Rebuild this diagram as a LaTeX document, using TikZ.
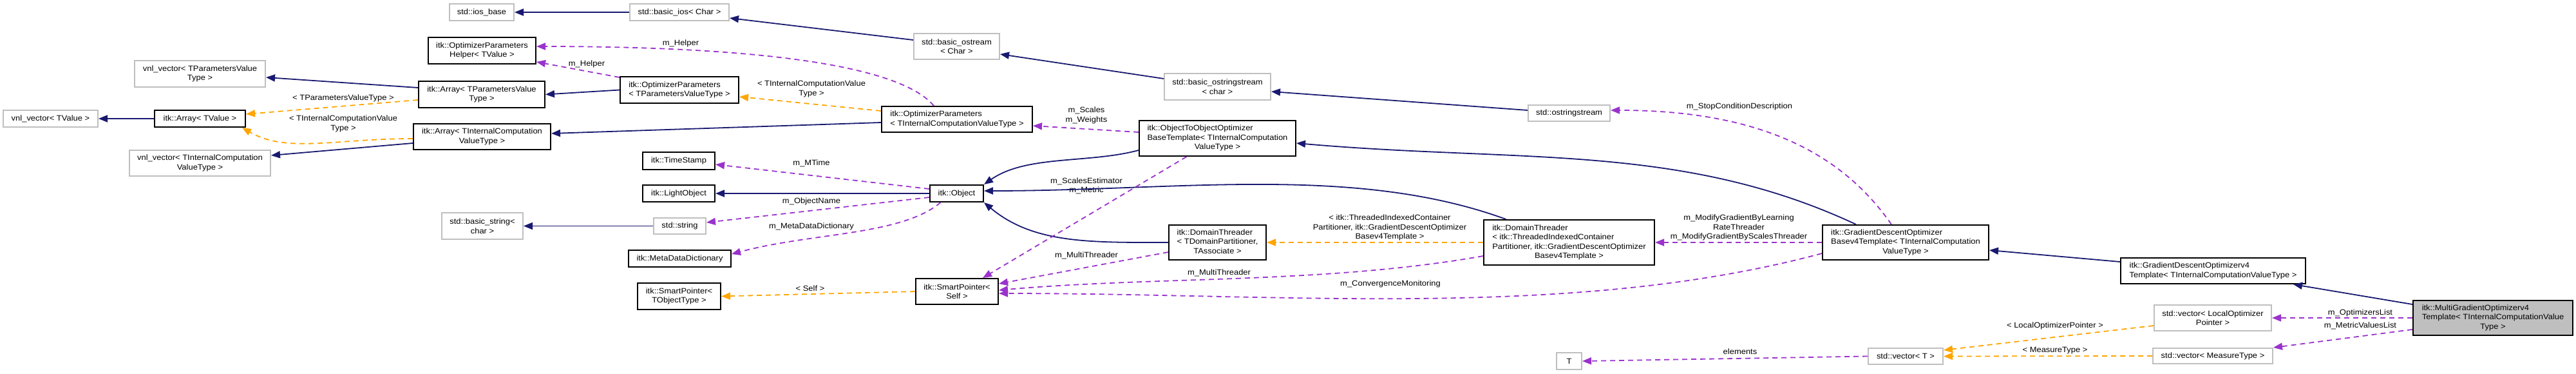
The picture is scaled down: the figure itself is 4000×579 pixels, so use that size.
\documentclass[tikz,border=0pt]{standalone}
\usepackage{fontspec}
\setmainfont{Liberation Sans}[FakeStretch=1.08]
\usetikzlibrary{arrows.meta}
\definecolor{inhblue}{RGB}{25,25,112}
\definecolor{tplorange}{RGB}{255,165,0}
\definecolor{usepurple}{RGB}{154,50,205}
\definecolor{extgray}{RGB}{191,191,191}
\newcommand{\leftstack}[1]{\begin{tabular}{@{}l@{}}#1\end{tabular}}
\newcommand{\midrow}[1]{\multicolumn{1}{@{}c@{}}{#1}}
\begin{document}
\begin{tikzpicture}[
x=1pt, y=-1pt,
every node/.style={font=\fontsize{12}{14.5}\selectfont, inner sep=0pt, align=center},
cls/.style={draw=black, line width=2pt, fill=white},
ext/.style={draw=extgray, line width=2pt, fill=white},
focus/.style={draw=black, line width=2pt, fill=extgray},
inherit/.style={draw=inhblue, line width=1.8pt, -{Triangle[length=14pt,width=11pt]}},
tmpl/.style={draw=tplorange, line width=1.8pt, dash pattern=on 8pt off 6pt, -{Triangle[length=14pt,width=11pt]}},
member/.style={draw=usepurple, line width=1.8pt, dash pattern=on 8pt off 6pt, -{Triangle[length=14pt,width=11pt]}}
]
\useasboundingbox (0,0) rectangle (4000,579);

% std stream classes
\node[ext, minimum width=100pt, minimum height=26pt] (iosbase) at (748,19) {std::ios\_base};
\node[ext, minimum width=154pt, minimum height=26pt] (basicios) at (1055,19) {std::basic\_ios< Char >};
\node[ext, minimum width=133pt, minimum height=40pt] (ostream) at (1485.5,72) {std::basic\_ostream\\< Char >};
\node[ext, minimum width=165pt, minimum height=41pt] (ostrstream) at (1890.5,134.5) {std::basic\_ostringstream\\< char >};
\node[ext, minimum width=127pt, minimum height=25pt] (ostringstream) at (2436.5,175.5) {std::ostringstream};

% arrays and parameters
\node[cls, minimum width=167pt, minimum height=41pt] (helper) at (748.5,78.5) {itk::OptimizerParameters\\Helper< TValue >};
\node[ext, minimum width=203pt, minimum height=41pt] (vnlparam) at (310.5,114.5) {vnl\_vector< TParametersValue\\Type >};
\node[cls, minimum width=196pt, minimum height=41pt] (arrparam) at (748,146.5) {itk::Array< TParametersValue\\Type >};
\node[cls, minimum width=184pt, minimum height=41pt] (optparam) at (1055,139.5) {\leftstack{itk::OptimizerParameters\\< TParametersValueType >}};
\node[ext, minimum width=147pt, minimum height=26pt] (vnlvalue) at (78.5,184) {vnl\_vector< TValue >};
\node[cls, minimum width=141pt, minimum height=26pt] (arrvalue) at (310.5,184) {itk::Array< TValue >};
\node[cls, minimum width=213pt, minimum height=40pt] (arrint) at (748.5,212) {itk::Array< TInternalComputation\\ValueType >};
\node[ext, minimum width=219pt, minimum height=40pt] (vnlint) at (310.5,253) {vnl\_vector< TInternalComputation\\ValueType >};
\node[cls, minimum width=234pt, minimum height=40pt] (optint) at (1486,185) {\leftstack{itk::OptimizerParameters\\< TInternalComputationValueType >}};
\node[cls, minimum width=243pt, minimum height=55pt] (otobase) at (1890.5,214.5) {\leftstack{itk::ObjectToObjectOptimizer\\BaseTemplate< TInternalComputation\\\midrow{ValueType >}}};

% object and members
\node[cls, minimum width=112pt, minimum height=27pt] (timestamp) at (1054,249.5) {itk::TimeStamp};
\node[cls, minimum width=112pt, minimum height=26pt] (lightobj) at (1054,300) {itk::LightObject};
\node[cls, minimum width=83pt, minimum height=26pt] (object) at (1485.5,300) {itk::Object};
\node[ext, minimum width=126pt, minimum height=41pt] (basicstr) at (749,350.5) {std::basic\_string<\\char >};
\node[ext, minimum width=81pt, minimum height=25pt] (stdstring) at (1055.5,350.5) {std::string};
\node[cls, minimum width=159pt, minimum height=26pt] (metadict) at (1055.5,401) {itk::MetaDataDictionary};
\node[cls, minimum width=129pt, minimum height=41pt] (sptobj) at (1054.5,459.5) {itk::SmartPointer<\\TObjectType >};
\node[cls, minimum width=128pt, minimum height=40pt] (sptself) at (1486,452) {itk::SmartPointer<\\Self >};
\node[cls, minimum width=151pt, minimum height=54pt] (dthreader) at (1890.5,376) {\leftstack{itk::DomainThreader\\< TDomainPartitioner,\\\midrow{TAssociate >}}};
\node[cls, minimum width=265pt, minimum height=70pt] (dtgd) at (2436.5,376) {\leftstack{itk::DomainThreader\\< itk::ThreadedIndexedContainer\\Partitioner, itk::GradientDescentOptimizer\\\midrow{Basev4Template >}}};
\node[cls, minimum width=258pt, minimum height=54pt] (gdbase) at (2959,376) {\leftstack{itk::GradientDescentOptimizer\\Basev4Template< TInternalComputation\\\midrow{ValueType >}}};
\node[cls, minimum width=287pt, minimum height=40pt] (gdv4) at (3436.5,420) {\leftstack{itk::GradientDescentOptimizerv4\\Template< TInternalComputationValueType >}};
\node[focus, minimum width=248pt, minimum height=54pt] (multi) at (3871,493) {\leftstack{itk::MultiGradientOptimizerv4\\Template< TInternalComputationValue\\\midrow{Type >}}};
\node[ext, minimum width=182pt, minimum height=40pt] (veclop) at (3436,493) {std::vector< LocalOptimizer\\Pointer >};
\node[ext, minimum width=186pt, minimum height=24pt] (vecmeas) at (3436,552) {std::vector< MeasureType >};
\node[ext, minimum width=116pt, minimum height=25pt] (vect) at (2959,552.5) {std::vector< T >};
\node[ext, minimum width=39pt, minimum height=26pt] (tparam) at (2436.5,560) {T};

% edge labels
\node (lparam) at (533,152) {< TParametersValueType >};
\node (lintval) at (533,192) {< TInternalComputationValue\\Type >};
\node (lhelpera) at (911,99) {m\_Helper};
\node (lhelperb) at (1057,67) {m\_Helper};
\node (lintopt) at (1260,138) {< TInternalComputationValue\\Type >};
\node (lscales) at (1687,179) {m\_Scales\\m\_Weights};
\node (lmtime) at (1260,253) {m\_MTime};
\node (lmetric) at (1687,288.5) {m\_ScalesEstimator\\m\_Metric};
\node (lname) at (1260,312) {m\_ObjectName};
\node (ldict) at (1260,351) {m\_MetaDataDictionary};
\node (lself) at (1258,447) {< Self >};
\node (lthreada) at (1687,396) {m\_MultiThreader};
\node (lthreadb) at (1893,423) {m\_MultiThreader};
\node (lconv) at (2159,440) {m\_ConvergenceMonitoring};
\node (lpart) at (2158,353) {< itk::ThreadedIndexedContainer\\Partitioner, itk::GradientDescentOptimizer\\Basev4Template >};
\node (lmodify) at (2700,353) {m\_ModifyGradientByLearning\\RateThreader\\m\_ModifyGradientByScalesThreader};
\node (lstop) at (2701,165) {m\_StopConditionDescription};
\node (lelem) at (2702,545) {elements};
\node (llocal) at (3191,505) {< LocalOptimizerPointer >};
\node (lmeasure) at (3191,544) {< MeasureType >};
\node (loptlist) at (3665,485) {m\_OptimizersList};
\node (lmetlist) at (3665,505) {m\_MetricValuesList};

% inheritance
\draw[inherit] (basicios.west) -- (iosbase.east);
\draw[inherit] ([yshift=10pt]ostream.west) -- ([yshift=-9pt]basicios.east);
\draw[inherit] ([yshift=12.5pt]ostrstream.west) -- ([yshift=-12pt]ostream.east);
\draw[inherit] ([yshift=4.5pt]ostringstream.west) -- ([yshift=-7.5pt]ostrstream.east);
\draw[inherit] ([yshift=10.5pt]arrparam.west) -- ([yshift=-5.5pt]vnlparam.east);
\draw[inherit] (optparam.west) -- (arrparam.east);
\draw[inherit] (arrvalue.west) -- (vnlvalue.east);
\draw[inherit] ([yshift=-10pt]arrint.west) -- ([yshift=12pt]vnlint.east);
\draw[inherit] ([yshift=-5pt]optint.west) -- ([yshift=5pt]arrint.east);
\draw[inherit] (object.west) -- (lightobj.east);
\draw[inherit] (stdstring.west) -- (basicstr.east);
\draw[inherit] ([yshift=-18.5pt]otobase.west) .. controls +(195:80pt) and +(35:80pt) .. (object.north east);
\draw[inherit] (dthreader.west) .. controls +(180:120pt) and +(-40:100pt) .. (object.south east);
\draw[inherit] ([xshift=-77pt]gdbase.north) .. controls +(155:300pt) and +(-5:350pt) .. ([yshift=-7.5pt]otobase.east);
\draw[inherit] ([xshift=-98pt]dtgd.north) .. controls +(160:250pt) and +(0:300pt) .. ([yshift=4pt]object.east);
\draw[inherit] ([yshift=14pt]gdv4.west) -- ([yshift=-12pt]gdbase.east);
\draw[inherit] ([yshift=21pt]multi.west) -- ([xshift=-20pt]gdv4.south east);

% template instances
\draw[tmpl] ([yshift=-8.5pt]arrparam.west) -- ([yshift=7pt]arrvalue.east);
\draw[tmpl] ([yshift=-3pt]arrint.west) .. controls +(180:120pt) and +(-30:80pt) .. ([xshift=-6pt]arrvalue.south east);
\draw[tmpl] ([yshift=13pt]optint.west) -- ([yshift=-10.5pt]optparam.east);
\draw[tmpl] (sptself.west) -- (sptobj.east);
\draw[tmpl] (dtgd.west) -- (dthreader.east);
\draw[tmpl] ([yshift=-12pt]veclop.west) -- ([yshift=9.5pt]vect.east);
\draw[tmpl] (vecmeas.west) -- (vect.east);

% members
\draw[member] ([yshift=-2pt]optparam.north west) -- ([yshift=4pt]helper.south east);
\draw[member] ([xshift=-36pt]optint.north) .. controls +(130:100pt) and +(0:250pt) .. ([yshift=6.5pt]helper.east);
\draw[member] ([yshift=9.5pt]otobase.west) -- ([yshift=-10pt]optint.east);
\draw[member] ([yshift=7pt]object.west) -- ([yshift=-5.5pt]timestamp.east);
\draw[member] ([yshift=-6pt]object.west) -- ([yshift=5.5pt]stdstring.east);
\draw[member] ([xshift=-25pt]object.south) .. controls +(-140:80pt) and +(15:130pt) .. ([yshift=7pt]metadict.east);
\draw[member] ([xshift=-48pt]otobase.south) -- ([xshift=40pt]sptself.north);
\draw[member] ([yshift=-15pt]dthreader.west) -- ([yshift=12pt]sptself.east);
\draw[member] ([yshift=-21pt]dtgd.west) .. controls +(190:250pt) and +(5:250pt) .. ([yshift=2pt]sptself.east);
\draw[member] ([yshift=-17pt]gdbase.west) .. controls +(195:400pt) and +(0:450pt) .. ([yshift=-3pt]sptself.east);
\draw[member] (gdbase.west) -- (dtgd.east);
\draw[member] ([xshift=-22pt]gdbase.north) .. controls +(125:120pt) and +(0:250pt) .. ([yshift=4.5pt]ostringstream.east);
\draw[member] (vect.west) -- (tparam.east);
\draw[member] (multi.west) -- (veclop.east);
\draw[member] ([yshift=-18pt]multi.west) -- (vecmeas.north east);
\end{tikzpicture}
\end{document}
